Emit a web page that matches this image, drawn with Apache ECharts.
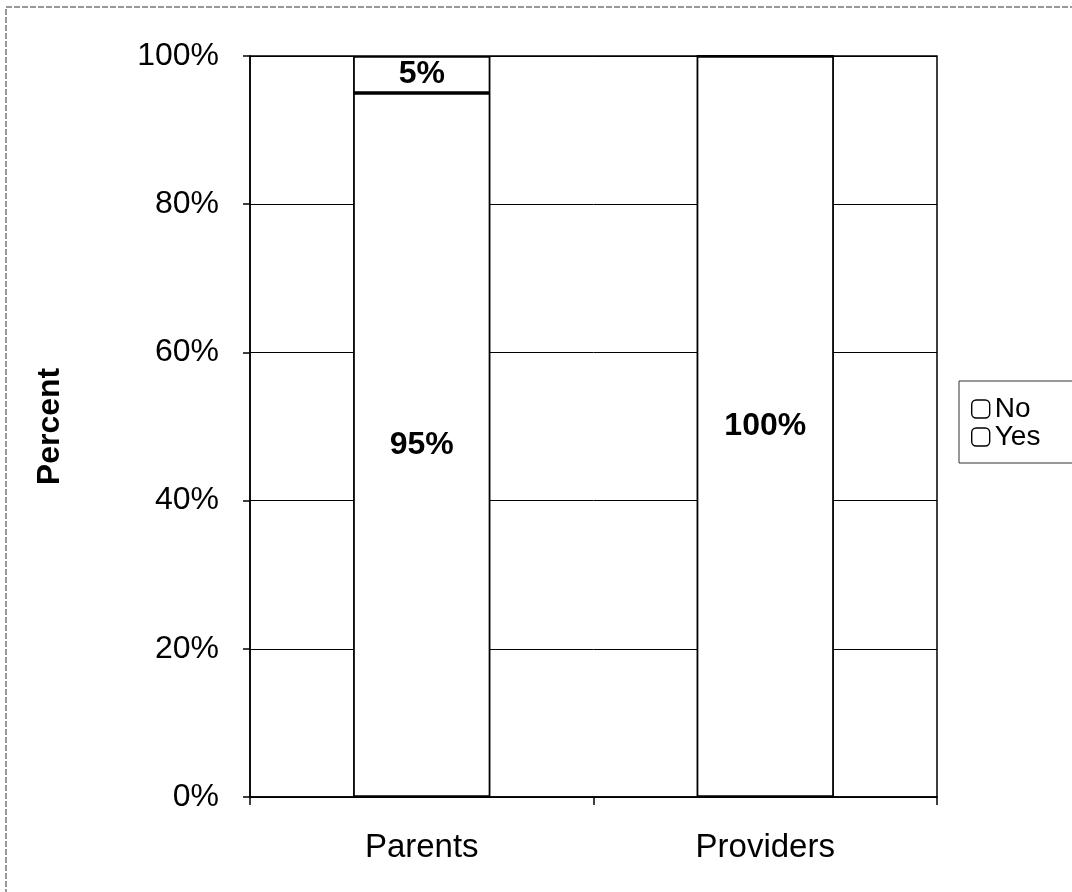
<!DOCTYPE html>
<html>
<head>
<meta charset="utf-8">
<style>
  html, body { margin: 0; padding: 0; background: #fff; }
  #chart { width: 1072px; height: 892px; }
</style>
<script src="https://cdn.jsdelivr.net/npm/echarts@6/dist/echarts.min.js"></script>
</head>
<body>
<div id="chart"></div>
<script>
// Survey groups and the share answering each way (percent)
const categories = ['Parents', 'Providers'];
const yesValues = [95, 100];
const noValues = [5, 0];
const seriesNames = ['No', 'Yes'];

const FONT = '"Liberation Sans", Arial, sans-serif';

const chart = echarts.init(document.getElementById('chart'), null, { renderer: 'canvas' });

const barStyle = { color: '#ffffff', borderColor: '#000000', borderWidth: 1.8 };
const valueLabel = {
  show: true,
  position: 'inside',
  color: '#000',
  fontFamily: FONT,
  fontWeight: 'bold',
  fontSize: 32,
  formatter: p => (p.value > 0 ? p.value + '%' : '')
};

chart.setOption({
  backgroundColor: '#ffffff',
  animation: false,
  graphic: [{
    type: 'rect',
    shape: { x: 6, y: 7, width: 1100, height: 900 },
    style: { fill: 'none', stroke: '#333', lineWidth: 1, lineDash: [6, 2] },
    silent: true,
    z: -1
  }],
  grid: {
    left: 250, right: 135, top: 56, bottom: 95,
    show: true, borderColor: '#000', borderWidth: 1.5, backgroundColor: 'transparent'
  },
  legend: {
    data: seriesNames,
    orient: 'vertical',
    left: 959,
    top: 381,
    padding: [14, 80, 12, 12],
    itemGap: 0,
    itemWidth: 18,
    itemHeight: 18,
    icon: 'roundRect',
    borderColor: '#333',
    borderWidth: 1,
    backgroundColor: '#fff',
    itemStyle: { color: '#fff', borderColor: '#000', borderWidth: 1.4 },
    textStyle: { fontFamily: FONT, fontSize: 28, lineHeight: 22, color: '#000' }
  },
  xAxis: {
    type: 'category',
    data: categories,
    axisLine: { lineStyle: { color: '#000', width: 1.5 } },
    axisTick: { show: true, length: 8, lineStyle: { color: '#000', width: 1.5 } },
    axisLabel: { color: '#000', fontFamily: FONT, fontSize: 33, margin: 34 },
    splitLine: { show: false }
  },
  yAxis: {
    type: 'value',
    min: 0, max: 100, interval: 20,
    name: 'Percent',
    nameLocation: 'middle',
    nameGap: 184,
    nameTextStyle: { color: '#000', fontFamily: FONT, fontSize: 32, fontWeight: 'bold' },
    axisLine: { show: true, lineStyle: { color: '#000', width: 1.5 } },
    axisTick: { show: true, length: 7, lineStyle: { color: '#000', width: 1.5 } },
    axisLabel: { color: '#000', fontFamily: FONT, fontSize: 32, margin: 31, formatter: '{value}%' },
    splitLine: { show: true, lineStyle: { color: '#000', width: 1 } }
  },
  series: [
    {
      name: 'Yes',
      type: 'bar',
      stack: 'total',
      barWidth: '40%',
      data: yesValues,
      itemStyle: barStyle,
      label: valueLabel
    },
    {
      name: 'No',
      type: 'bar',
      stack: 'total',
      barWidth: '40%',
      data: noValues,
      itemStyle: barStyle,
      label: valueLabel
    }
  ]
});
</script>
</body>
</html>
